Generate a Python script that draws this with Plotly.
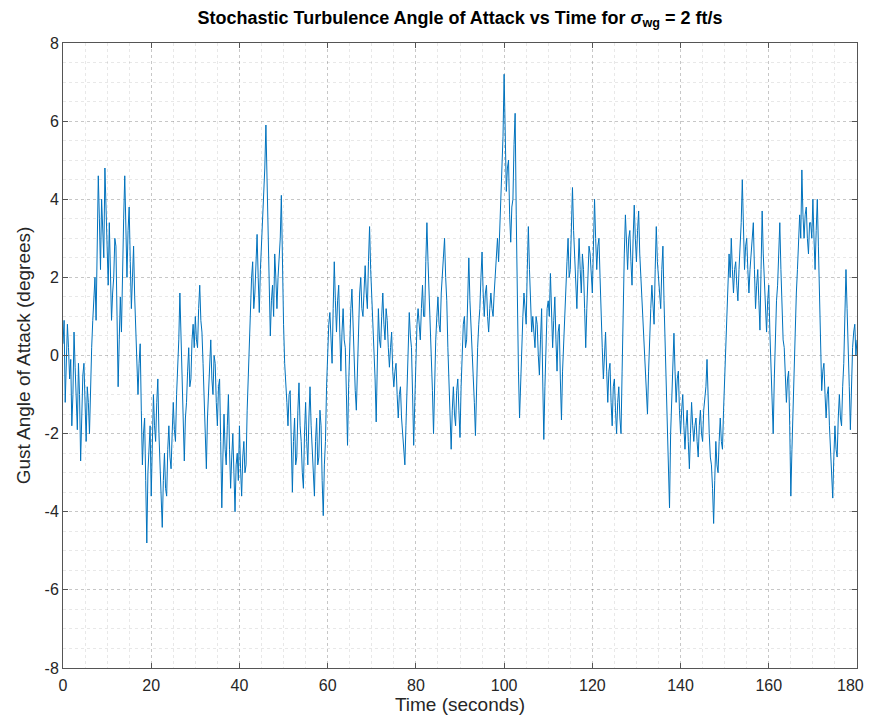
import plotly.graph_objects as go

# Gust angle of attack (degrees) at t = 0, 0.5, 1.0, ... 180 s
alpha_half_s = [
    0.3, -1.2, 0.8, -0.6, -1.8, 0.6, -1.0, -0.2, -2.7, -0.5, -1.5, -0.8, -2.0, 0.2, 1.4, 0.9, 4.6, 2.2, 3.3, 4.8,
    2.6, 3.4, 0.9, 2.0, 2.8, -0.8, 1.5, 2.4, 4.6, 2.0, 3.8, 1.2, 2.8, 0.8, -1.0, 0.3, -2.8, -1.6, -4.8, -2.4,
    -3.6, -1.0, -2.2, -0.6, -3.0, -4.4, -2.5, -3.6, -1.8, -2.9, -1.2, -2.2, -0.4, 1.6, -0.5, -2.7, -1.2, 0.2, -0.6, 0.8,
    1.0, 0.2, 1.8, 0.6, -1.2, -2.9, -0.8, 0.4, -1.0, -0.2, -1.8, -0.6, -3.9, -1.5, -2.8, -1.0, -3.4, -2.0, -4.0, -2.5,
    -1.8, -3.6, -2.2, -2.8, -0.5, 1.4, 2.4, 1.6, 3.1, 1.1, 2.8, 4.2, 5.9, 3.5, 0.5, 1.8, 2.6, 1.2, 2.4, 4.1,
    0.8, -0.6, -1.8, -0.9, -3.5, -1.6, -2.6, -0.7, -2.2, -3.4, -1.2, -2.8, -0.8, -2.4, -3.6, -1.6, -2.6, -1.8, -4.1, -2.2,
    0.2, 1.1, -0.2, 2.4, 0.6, 1.8, -0.4, 1.2, 0.2, -2.3, 0.4, 1.7, -0.2, -1.4, 0.8, 2.0, 1.0, 2.3, 1.2, 3.3,
    1.6, 0.4, -1.7, 1.2, 0.2, 1.6, 0.4, 0.9, -0.3, 0.6, -0.8, -0.2, -1.6, -0.8, -2.0, -2.8, -0.6, 1.1, 0.2, -2.3,
    0.0, 1.2, 0.4, 1.8, 1.0, 3.4, 1.6, 0.2, -2.0, 0.4, 1.5, 0.6, 2.0, 3.0, 1.4, -0.6, -2.4, -0.8, -1.8, -0.6,
    -2.1, 0.2, 1.0, 0.4, 2.5, 0.8, -0.4, -2.05, 0.2, 1.2, 2.65, 1.0, 1.8, 0.6, 1.6, 1.0, 2.0, 3.0, 3.2, 4.5,
    7.2, 4.2, 5.0, 2.9, 4.0, 6.2, 0.8, -1.6, 0.2, 1.6, 0.8, 3.3, 1.4, 1.0, 0.2, 0.8, -0.5, 1.2, -2.15, 0.6,
    1.4, 2.1, 0.2, 1.5, -0.4, 0.8, -1.65, 0.4, 1.8, 3.0, 2.2, 4.3, 2.4, 1.2, 3.0, 1.6, 2.2, 0.2, 1.8, 2.6,
    1.6, 4.0, 2.2, 3.0, 0.8, -0.6, 0.6, -1.2, -0.2, -1.8, -0.6, -2.0, -0.8, -2.0, 1.5, 3.6, 2.2, 3.2, 1.8, 3.85,
    2.4, 3.7, 2.0, 1.0, -0.2, -1.5, 0.6, 1.8, 0.8, 3.3, 2.0, 1.2, 2.8, 0.2, -2.2, -3.9, -1.0, 0.57, -1.2, -0.4,
    -2.0, -1.0, -2.4, -1.4, -2.9, -1.2, -2.2, -1.6, -2.6, -1.4, -2.2, -1.0, -0.1, -2.0, -2.8, -4.3, -2.2, -3.0, -1.6, -2.4,
    -0.6, 1.0, 2.6, 3.0, 1.6, 2.4, 1.4, 2.8, 4.5, 2.2, 3.0, 1.6, 2.6, 3.4, 1.2, 2.2, 0.65, 3.7, 1.8, 0.6,
    1.8, -0.4, -2.0, 0.6, 1.8, 3.4, 1.2, 0.2, -1.2, -0.4, -3.6, -1.2, 0.6, 2.2, 3.6, 4.75, 3.0, 3.8, 2.6, 3.4,
    4.0, 2.2, 4.0, 1.6, -0.9, -0.2, -1.6, -0.8, -2.4, -3.65, -1.8, -2.6, -1.0, -1.8, -0.2, 2.2, 0.4, -1.9, 0.2, 0.8, 0.4,
]

# values read in between, at t = 0.25, 0.75, ... 179.75 s
alpha_quarter_s = [
    0.9, -0.4, 0.2, -0.1, -1.0, -0.3, -1.9, -1.0, -1.4, -0.2, -2.2, -1.2, -0.6, 0.9, 2.0, 2.8, 3.5, 4.0, 2.5, 3.8,
    1.8, 2.2, 1.6, 3.0, 1.0, 0.4, 0.6, 3.5, 3.0, 3.2, 2.4, 2.0, 1.5, 0.0, -0.2, -1.4, -2.0, -3.2, -3.0, -1.8,
    -2.0, -1.8, -1.2, -2.0, -3.8, -3.2, -3.4, -2.4, -2.6, -2.0, -1.9, -1.0, 0.4, 0.3, -1.8, -1.6, -0.4, -0.8, 0.4, 0.2,
    0.4, 1.2, 0.9, -0.2, -2.0, -1.6, -0.2, -0.6, 0.0, -1.2, -0.8, -2.2, -2.6, -2.4, -1.8, -2.4, -2.6, -3.0, -2.8, -3.2,
    -2.9, -2.6, -3.0, -1.4, 0.6, 2.0, 1.2, 2.6, 2.0, 2.2, 3.6, 4.8, 4.4, 2.0, 1.4, 1.0, 2.0, 2.0, 3.0, 2.2,
    -0.2, -1.2, -1.0, -2.4, -2.2, -2.8, -1.4, -1.8, -3.0, -2.0, -2.2, -1.6, -1.8, -2.9, -2.2, -2.8, -1.4, -3.2, -2.8, -0.8,
    0.8, 0.3, 1.2, 1.4, 1.4, 0.6, 0.6, 0.4, -1.0, -0.8, 1.2, 0.6, -0.9, -0.2, 1.6, 1.2, 1.8, 1.6, 2.4, 2.2,
    0.8, -0.6, -0.2, 0.4, 1.0, 0.8, 1.2, 0.2, 0.2, -0.4, -0.4, -1.0, -1.0, -1.6, -2.4, -1.8, 0.4, 0.5, -1.0, -1.2,
    0.8, 0.6, 1.2, 1.0, 2.4, 2.4, 0.8, -0.9, -0.6, 1.0, 0.8, 1.6, 2.6, 2.0, 0.2, -1.4, -1.4, -1.5, -0.9, -1.4,
    -0.8, 0.8, 0.2, 1.6, 1.4, 0.0, -1.2, -0.8, 0.8, 2.0, 1.6, 1.6, 1.0, 1.2, 1.2, 1.6, 2.6, 2.4, 4.0, 5.6,
    5.2, 4.8, 3.6, 3.8, 5.4, 3.6, -0.4, -0.6, 1.0, 1.0, 2.2, 2.2, 0.6, 0.6, 1.0, 0.0, 0.4, -0.6, -0.8, 1.2,
    1.0, 1.2, 0.9, 0.4, 0.6, -0.6, -0.4, 1.2, 2.4, 2.0, 3.2, 3.2, 1.6, 2.2, 2.2, 2.6, 1.2, 1.2, 2.8, 2.0,
    2.8, 3.0, 2.8, 2.0, 0.2, 0.0, -0.4, -0.4, -1.2, -0.8, -1.4, -1.2, -1.6, -0.4, 2.6, 2.8, 3.0, 2.4, 3.0, 3.0,
    3.2, 2.6, 1.6, 0.2, -0.8, -0.4, 1.2, 1.2, 2.2, 2.4, 1.4, 2.2, 1.4, -1.0, -3.0, -2.0, -0.2, -0.4, -0.6, -1.4,
    -1.4, -1.8, -1.8, -2.2, -2.0, -1.8, -1.8, -2.2, -1.8, -2.0, -1.4, -0.8, -1.2, -2.6, -3.4, -3.2, -2.8, -2.2, -2.2, -1.4,
    0.4, 2.0, 2.0, 2.2, 2.2, 1.8, 2.2, 3.4, 3.2, 2.8, 2.2, 2.2, 3.0, 2.2, 1.8, 1.4, 2.2, 2.6, 1.2, 1.4,
    0.6, -1.2, -0.6, 1.4, 2.6, 2.2, 0.4, -0.4, -0.6, -1.8, -2.4, -0.2, 1.6, 3.0, 3.0, 3.6, 3.6, 3.0, 3.4, 3.0,
    3.0, 3.2, 2.8, 0.4, -0.4, -1.0, -1.0, -1.8, -3.0, -2.6, -2.4, -1.6, -1.6, -0.8, 1.0, 1.2, -0.8, -0.6, 0.6, 0.0,
]

x_ticks = [0, 20, 40, 60, 80, 100, 120, 140, 160, 180]
y_ticks = [-8, -6, -4, -2, 0, 2, 4, 6, 8]

# merge both readings into one time series
time_s, alpha_deg = [], []
for i, a in enumerate(alpha_half_s):
    time_s.append(i * 0.5)
    alpha_deg.append(a)
    if i < len(alpha_quarter_s):
        time_s.append(i * 0.5 + 0.25)
        alpha_deg.append(alpha_quarter_s[i])

font_family = "Liberation Sans, Arial, sans-serif"
axis_color = "#555555"
tick_font = dict(family=font_family, size=16, color="#262626")

# the last x label sits on the page edge; pad it with no-break spaces so it stays fully visible
x_tick_text = [str(v) for v in x_ticks]
x_tick_text[-1] = x_tick_text[-1] + "\u00a0\u00a0\u00a0"

fig = go.Figure()
fig.add_trace(go.Scatter(
    x=time_s, y=alpha_deg, mode="lines",
    line=dict(color="#0072BD", width=1),
    showlegend=False,
))

common_axis = dict(
    showline=True, linecolor=axis_color, linewidth=1, mirror="ticks",
    ticks="inside", ticklen=5, tickcolor=axis_color,
    showgrid=True, gridcolor="rgba(0,0,0,0.14)", griddash="dot", gridwidth=1,
    zeroline=False, tickfont=tick_font, automargin=False, ticklabeloverflow="allow",
)

fig.update_xaxes(
    range=[0, 180], tickvals=x_ticks, ticktext=x_tick_text, ticklabelstandoff=3,
    minor=dict(dtick=5, showgrid=True, gridcolor="rgba(0,0,0,0.09)", griddash="dot", ticks=""),
    title=dict(text="Time (seconds)", font=dict(family=font_family, size=19, color="#262626"), standoff=4),
    **common_axis,
)
fig.update_yaxes(
    range=[-8, 8], tickvals=y_ticks, ticktext=[str(v) for v in y_ticks],
    minor=dict(dtick=0.5, showgrid=True, gridcolor="rgba(0,0,0,0.09)", griddash="dot", ticks=""),
    title=dict(text="Gust Angle of Attack (degrees)", font=dict(family=font_family, size=19, color="#262626"),
               standoff=8),
    **common_axis,
)

# the page body adds an 8 px offset, so the figure is sized to fit inside the window without scrollbars
fig.update_layout(
    width=865, height=707,
    margin=dict(l=55, r=16, t=35, b=47),
    paper_bgcolor="white", plot_bgcolor="white",
    title=dict(
        text="<b>Stochastic Turbulence Angle of Attack vs Time for <i>σ</i><sub>wg</sub> = 2 ft/s</b>",
        x=0.5, xref="paper", xanchor="center", y=0.987, yanchor="middle",
        font=dict(family=font_family, size=18, color="#000000"),
    ),
)

fig.write_html("out.html")
